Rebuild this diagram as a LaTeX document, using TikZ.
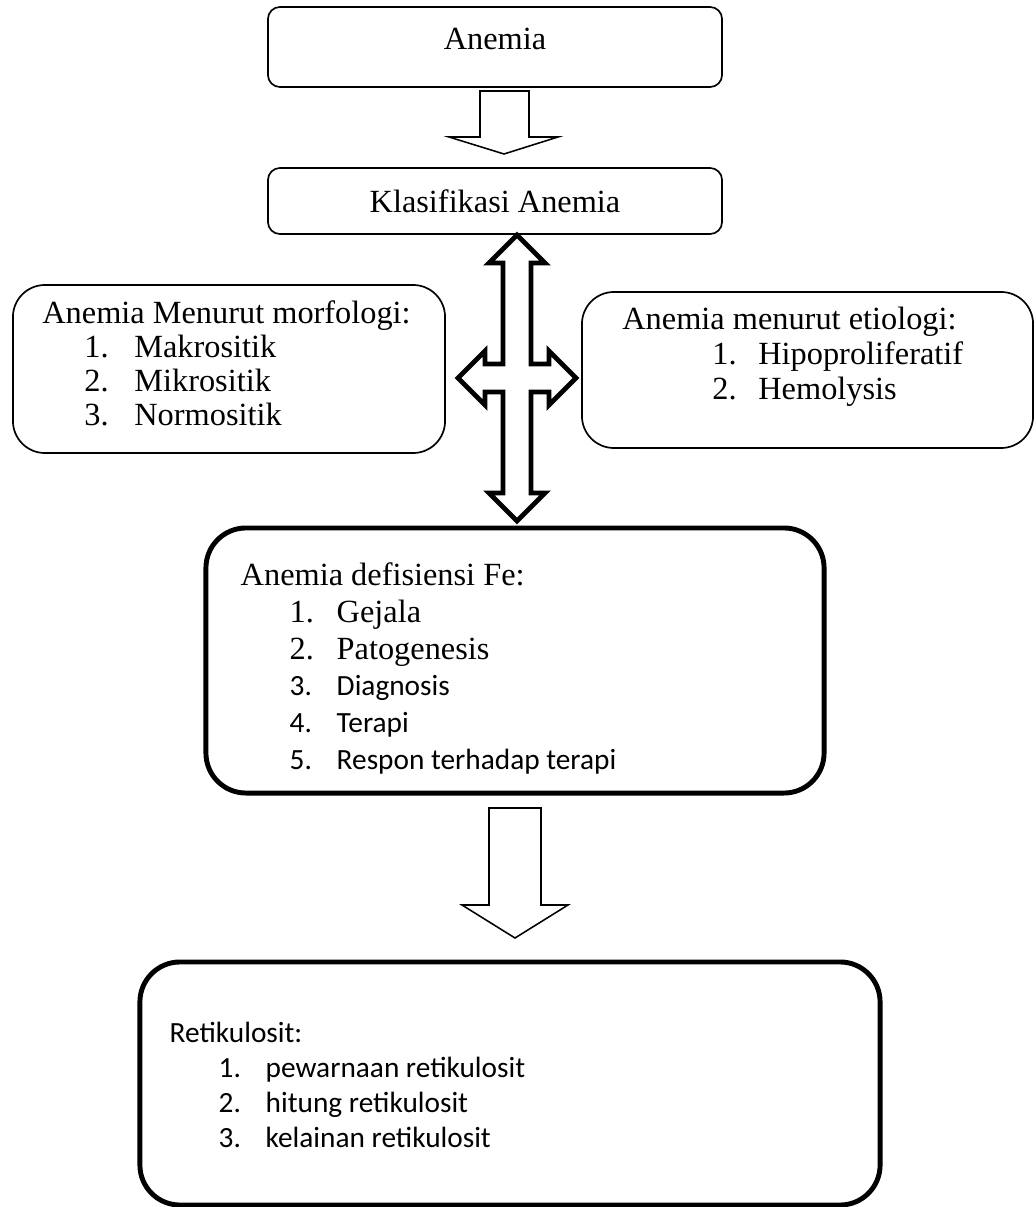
\documentclass[tikz,border=0pt]{standalone}
\usepackage{fontspec}
\setmainfont{Liberation Serif}
\newfontfamily\calibri{Carlito}
\usetikzlibrary{positioning,calc}
\newcommand\timesfont{\fontsize{23pt}{26pt}\selectfont}
\newcommand\calfont{\calibri\fontsize{20.85pt}{25pt}\selectfont}
\tikzset{
  thinbox/.style={draw, rounded corners=0.3cm, line width=1.2pt, inner sep=0pt, font=\timesfont},
  softbox/.style={draw, rounded corners=0.8cm, line width=1.2pt, inner sep=0pt},
  thickbox/.style={draw, rounded corners=1cm, line width=3.5pt, inner sep=0pt},
  boxtext/.style={font=\timesfont, anchor=base west, inner sep=0pt},
  caltext/.style={font=\calfont, anchor=base west, inner sep=0pt},
  hollow/.style={draw, fill=white, line width=1.1pt, line join=miter},
  hollowthick/.style={draw, fill=white, line width=3.5pt, line join=miter}
}

\begin{document}
\begin{tikzpicture}[x=0.025cm, y=-0.025cm]
  \useasboundingbox (0,0) rectangle (1036,1207);

  % top boxes
  \node[thinbox, minimum width=11.35cm, minimum height=2cm, text depth=0.4cm] (anemia) at (495,47) {Anemia};
  \node[thinbox, minimum width=11.35cm, minimum height=1.65cm] (klasifikasi) at (495,201) {Klasifikasi Anemia};
  \draw[hollow] (480,91) -- (529,91) -- (529,137) -- (558,137) -- (504,154) -- (449,137) -- (480,137) -- cycle;

  % side boxes
  \node[softbox, minimum width=10.8cm, minimum height=4.2cm] (morfologi) at (229,369) {};
  \node[boxtext] (morfTitle) at ([shift={(30,39)}]morfologi.north west) {Anemia Menurut morfologi:};
  \foreach \t [count=\i] in {Makrositik,Mikrositik,Normositik}
    \node[boxtext] (morf\i) at ([shift={(42,34*\i)}]morfTitle.base west) {\makebox[1.25cm][l]{\i.}\t};

  \node[softbox, minimum width=11.275cm, minimum height=3.9cm] (etiologi) at (807.5,370) {};
  \node[boxtext] (etioTitle) at ([shift={(41,38)}]etiologi.north west) {Anemia menurut etiologi:};
  \foreach \t [count=\i] in {Hipoproliferatif,Hemolysis}
    \node[boxtext] (etio\i) at ([shift={(90,35*\i)}]etioTitle.base west) {\makebox[1.15cm][l]{\i.}\t};

  % four way arrow
  \draw[hollowthick] (517,235) -- (545,263) -- (531,263) -- (531,364) -- (549,364) -- (549,351)
    -- (576,378) -- (549,405) -- (549,392) -- (531,392) -- (531,493) -- (545,493) -- (517,521)
    -- (489,493) -- (503,493) -- (503,392) -- (485,392) -- (485,405) -- (458,378) -- (485,351)
    -- (485,364) -- (503,364) -- (503,263) -- (489,263) -- cycle;

  % Fe box
  \node[thickbox, minimum width=15.45cm, minimum height=6.625cm] (defisiensi) at (515,660.5) {};
  \node[boxtext] (defTitle) at ([shift={(37,60)}]defisiensi.north west) {Anemia defisiensi Fe:};
  \foreach \t [count=\i] in {Gejala,Patogenesis}
    \node[boxtext] (def\i) at ([shift={(49,37*\i)}]defTitle.base west) {\makebox[1.175cm][l]{\i.}\t};
  \foreach \t/\n in {Diagnosis/3,Terapi/4,Respon terhadap terapi/5}
    \node[caltext] (def\n) at ([shift={(49,37*\n-1)}]defTitle.base west) {\makebox[1.175cm][l]{\n.}\t};

  \draw[hollow] (489,808) -- (541,808) -- (541,905) -- (568,905) -- (515,938) -- (462,905) -- (489,905) -- cycle;

  % retikulosit box
  \node[thickbox, minimum width=18.5cm, minimum height=6.075cm] (retikulosit) at (510,1083.5) {};
  \node[caltext] (retTitle) at ([shift={(32,83)}]retikulosit.north west) {Retikulosit:};
  \foreach \t [count=\i] in {pewarnaan retikulosit,hitung retikulosit,kelainan retikulosit}
    \node[caltext] (ret\i) at ([shift={(49,35*\i)}]retTitle.base west) {\makebox[1.175cm][l]{\i.}\t};
\end{tikzpicture}
\end{document}
